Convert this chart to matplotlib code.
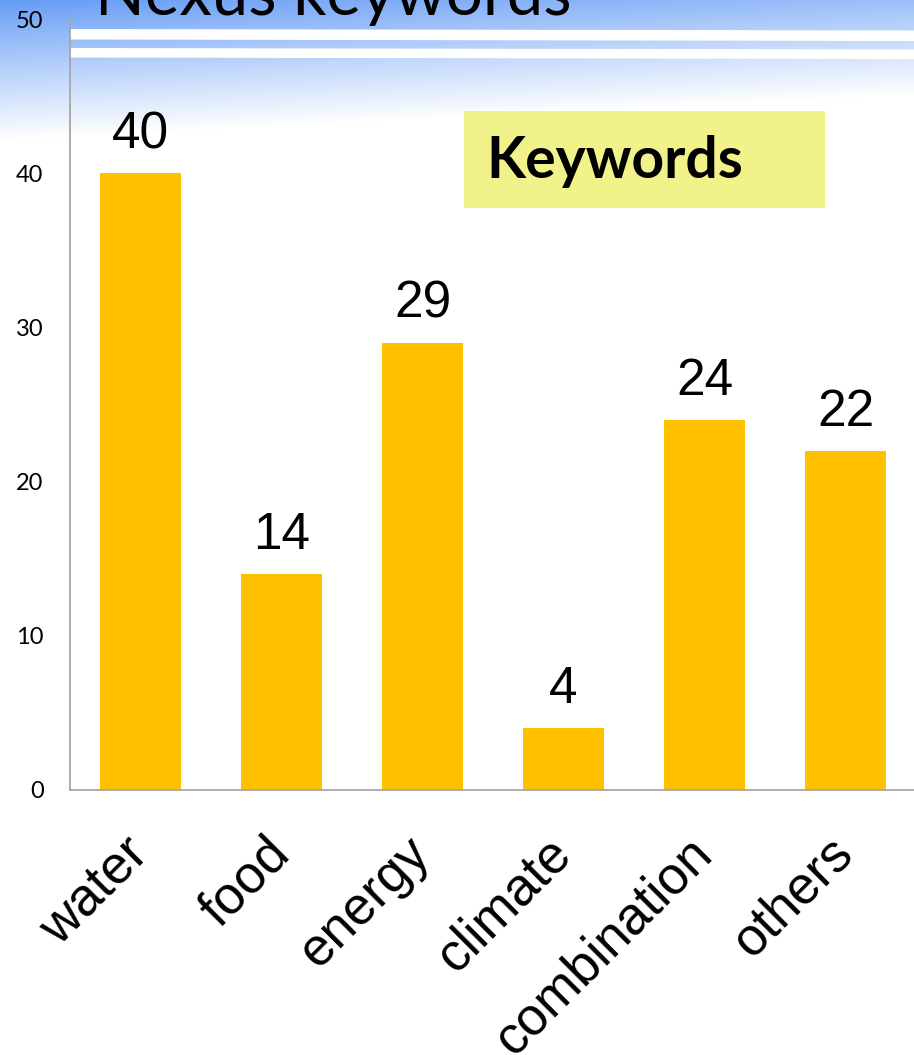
import numpy as np
import matplotlib
matplotlib.use('Agg')
import matplotlib.pyplot as plt
from matplotlib.patches import Polygon, Rectangle

categories = ['water', 'food', 'energy', 'climate', 'combination', 'others']
counts = [40, 14, 29, 4, 24, 22]
yticks = [0, 10, 20, 30, 40, 50]
title_text = 'Nexus keywords'
box_text = 'Keywords'

W, H = 914, 1055
fig = plt.figure(figsize=(W / 100, H / 100), dpi=100)

# background (slide) layer in pixel coordinates
bg = fig.add_axes([0, 0, 1, 1], zorder=0)
bg.set_xlim(0, W)
bg.set_ylim(H, 0)
bg.axis('off')
yy, xx = np.mgrid[0:H, 0:W]
t = np.clip((yy + 0.05 * xx) / 140.0, 0, 1) ** 0.9
blue = np.array([100, 155, 245]) / 255.0
img = blue * (1 - t[..., None]) + t[..., None]
bg.imshow(img, extent=[0, W, H, 0], aspect='auto', interpolation='bilinear')
bg.add_patch(Polygon([(70, 29), (W, 30.5), (W, 41), (70, 39.5)], closed=True,
                     facecolor='white', edgecolor='none'))
bg.add_patch(Polygon([(70, 48), (W, 49.5), (W, 59), (70, 57.5)], closed=True,
                     facecolor='white', edgecolor='none'))
bg.text(95, 15, title_text, fontsize=47, family=['Lato', 'DejaVu Sans'],
        weight='normal', va='baseline', ha='left', color='black')
bg.add_patch(Rectangle((464, 111), 361, 97, facecolor='#F2F28A', edgecolor='none'))
bg.text(486, 161, box_text, fontsize=41, family=['Lato', 'DejaVu Sans'],
        weight='bold', va='center', ha='left', color='black')

# chart
ax = fig.add_axes([70 / W, 1 - 790 / H, 846 / W, 771 / H], zorder=1)
ax.set_facecolor('none')
x = np.arange(len(categories))
bars = ax.bar(x, counts, width=0.574, color='#FFC000', zorder=2)
ax.bar_label(bars, labels=[str(c) for c in counts], padding=10, fontsize=37,
             family=['Liberation Sans', 'DejaVu Sans'], color='black')
ax.set_xlim(-0.5, 5.5)
ax.set_ylim(0, 50)
ax.set_yticks(yticks)
ax.set_yticklabels([str(v) for v in yticks], fontsize=17,
                   family=['Lato', 'DejaVu Sans'])
ax.set_xticks(x)
ax.set_xticklabels(categories, fontsize=38, family=['Liberation Sans', 'DejaVu Sans'],
                   rotation=45, ha='right', va='center', rotation_mode='anchor')
ax.tick_params(axis='y', length=0, pad=19)
ax.tick_params(axis='x', length=0, pad=40)
for s in ['top', 'right']:
    ax.spines[s].set_visible(False)
for s in ['left', 'bottom']:
    ax.spines[s].set_color('#A6A6A6')
    ax.spines[s].set_linewidth(1.3)

fig.savefig('out.png', dpi=100)
